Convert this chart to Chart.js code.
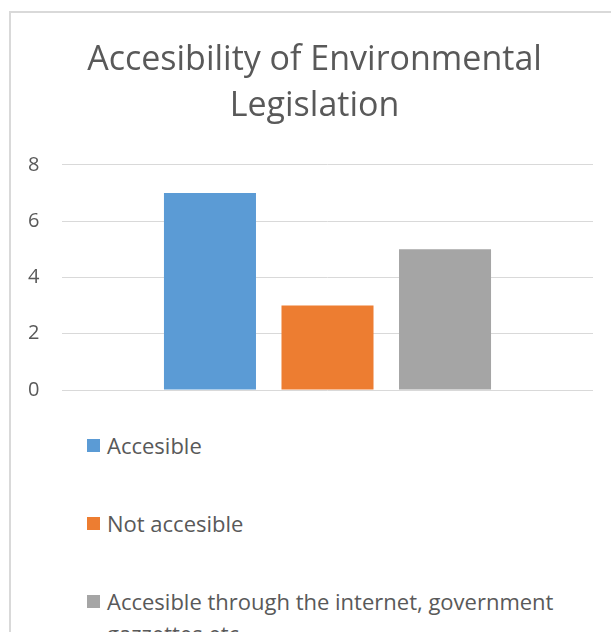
<!DOCTYPE html>
<html lang="en">
  <head>
    <meta charset="UTF-8" />
    <meta name="viewport" content="width=device-width, initial-scale=1.0" />
    <title>Accesibility of Environmental Legislation</title>
    <style>
      html,
      body {
        margin: 0;
        background: #fff;
        overflow: hidden;
      }
      body {
        position: relative;
        width: 611px;
        height: 632px;
        font-family: "Open Sans", sans-serif;
      }
      .frame {
        position: absolute;
        left: 9px;
        top: 11px;
        width: 700px;
        height: 700px;
        border: 2px solid #d9d9d9;
      }
      .chart-box {
        position: absolute;
        left: 0;
        top: 0;
        width: 611px;
        height: 420px;
      }
      .legend {
        position: absolute;
        left: 87px;
        top: 429px;
        margin: 0;
        padding: 0;
        list-style: none;
        color: #595959;
        font-size: 22px;
        line-height: 32px;
      }
      .legend li {
        display: flex;
        align-items: flex-start;
        height: 78px;
      }
      .legend .swatch {
        flex: none;
        width: 13px;
        height: 13px;
        margin-top: 10px;
        margin-right: 7px;
      }
      .legend .text {
        width: 480px;
      }
    </style>
  </head>
  <body>
    <div class="frame"></div>
    <div class="chart-box">
      <canvas id="myChart"></canvas>
    </div>
    <ul class="legend" id="legend"></ul>

    <script src="https://cdn.jsdelivr.net/npm/chart.js"></script>

    <script>
      const titleLines = ["Accesibility of Environmental", "Legislation"];
      const categories = [""];
      const seriesNames = [
        "Accesible",
        "Not accesible",
        "Accesible through the internet, government gazzettes etc.",
      ];
      const seriesValues = [7, 3, 5];
      const seriesColors = ["#5b9bd5", "#ed7d31", "#a5a5a5"];
      const yTicks = [0, 2, 4, 6, 8];

      Chart.defaults.font.family = "'Open Sans', sans-serif";
      Chart.defaults.color = "#595959";

      const ctx = document.getElementById("myChart");

      const chart = new Chart(ctx, {
        type: "bar",
        data: {
          labels: categories,
          datasets: seriesNames.map((name, i) => ({
            label: name,
            data: [seriesValues[i]],
            backgroundColor: seriesColors[i],
            borderWidth: 0,
          })),
        },
        options: {
          responsive: true,
          maintainAspectRatio: false,
          animation: false,
          categoryPercentage: 0.664,
          barPercentage: 0.783,
          layout: {
            // left padding is wider so the title sits centred over the frame
            padding: { left: 36, right: 18, top: 0, bottom: 30 },
          },
          plugins: {
            legend: { display: false },
            tooltip: { enabled: false },
            title: {
              display: true,
              text: titleLines,
              color: "#595959",
              font: { size: 34, weight: "normal", lineHeight: 1.35 },
              padding: { top: 37, bottom: 36 },
            },
          },
          scales: {
            x: { display: false },
            y: {
              min: yTicks[0],
              max: yTicks[yTicks.length - 1],
              afterBuildTicks: (scale) => {
                scale.ticks = yTicks.map((v) => ({ value: v }));
              },
              afterFit: (scale) => {
                scale.width = 26;
              },
              border: { display: false },
              grid: { color: "#d9d9d9", lineWidth: 1, drawTicks: false },
              ticks: {
                // mirrored so the labels are not clipped to the narrow axis box
                mirror: true,
                padding: -34,
                color: "#595959",
                font: { size: 20 },
              },
            },
          },
        },
      });

      // legend: one item per line, built from the same series arrays
      const legendEl = document.getElementById("legend");
      seriesNames.forEach((name, i) => {
        const li = document.createElement("li");
        const swatch = document.createElement("span");
        swatch.className = "swatch";
        swatch.style.background = seriesColors[i];
        const text = document.createElement("span");
        text.className = "text";
        text.textContent = name;
        li.appendChild(swatch);
        li.appendChild(text);
        legendEl.appendChild(li);
      });
    </script>
  </body>
</html>
